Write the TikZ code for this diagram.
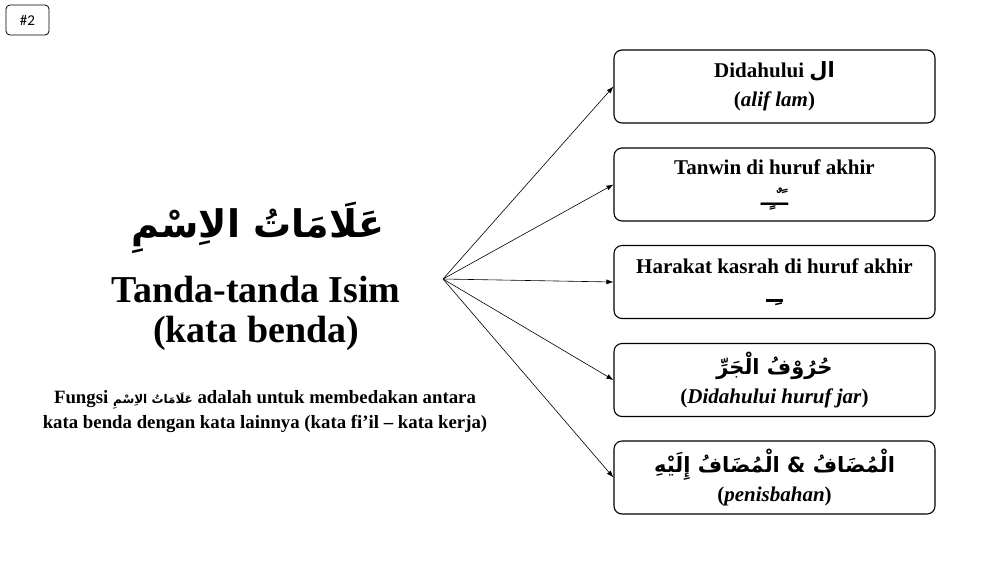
\documentclass[tikz,border=0pt]{standalone}
\usepackage{fontspec}
\setmainfont{Liberation Serif}
\newfontfamily\arabicfont[Script=Arabic]{DejaVu Sans}
\newfontfamily\tagfont{Carlito}
\TeXXeTstate=1
\usetikzlibrary{arrows.meta}
\newcommand{\ar}[1]{{\arabicfont\beginR #1\endR}}
\begin{document}
\begin{tikzpicture}[x=1pt,y=-1pt,
    ciri/.style={draw, line width=1.1pt, rounded corners=8pt, minimum width=321pt, minimum height=73pt, align=center, font=\fontsize{21}{29}\selectfont\bfseries},
    panah/.style={-{Latex[length=7pt,width=5pt]}, line width=0.6pt}]
  \useasboundingbox (0,0) rectangle (1000,560);
  \node[draw, line width=0.8pt, rounded corners=4pt, minimum width=43pt, minimum height=30pt, font=\tagfont\fontsize{15}{15}\selectfont] (tag) at (27.5,20) {\#2};
  \node[font=\fontsize{38}{50}\selectfont\bfseries] (judular) at (258,228) {\ar{عَلَامَاتُ الاِسْمِ}};
  \node[font=\fontsize{38}{40}\selectfont\bfseries, align=center] (judul) at (256,313) {Tanda-tanda Isim\\(kata benda)};
  \node[font=\fontsize{18.8}{25}\selectfont\bfseries, align=center] (fungsi) at (265,412)
    {Fungsi {\fontsize{12}{12}\selectfont\ar{عَلَامَاتُ الاِسْمِ}} adalah untuk membedakan antara\\kata benda dengan kata lainnya (kata fi’il -- kata kerja)};
  \coordinate (o) at (443,279);
  \node[ciri] (b1) at (774.5,86.5) {Didahului \ar{ال}\\(\textit{alif lam})};
  \node[ciri] (b2) at (774.5,184.5) {Tanwin di huruf akhir\\[2pt]{\fontsize{20}{29}\selectfont\ar{ـًـٌـٍـ}}};
  \node[ciri] (b3) at (774.5,282) {Harakat kasrah di huruf akhir\\{\fontsize{24}{29}\selectfont\ar{ـِـ}}};
  \node[ciri] (b4) at (774.5,380) {\ar{حُرُوْفُ الْجَرِّ}\\(\textit{Didahului huruf jar})};
  \node[ciri] (b5) at (774.5,477.5) {\ar{الْمُضَافُ \& الْمُضَافُ إِلَيْهِ}\\(\textit{penisbahan})};
  \foreach \b in {b1,b2,b3,b4,b5}
    \draw[panah] (o) -- (\b.west);
\end{tikzpicture}
\end{document}
